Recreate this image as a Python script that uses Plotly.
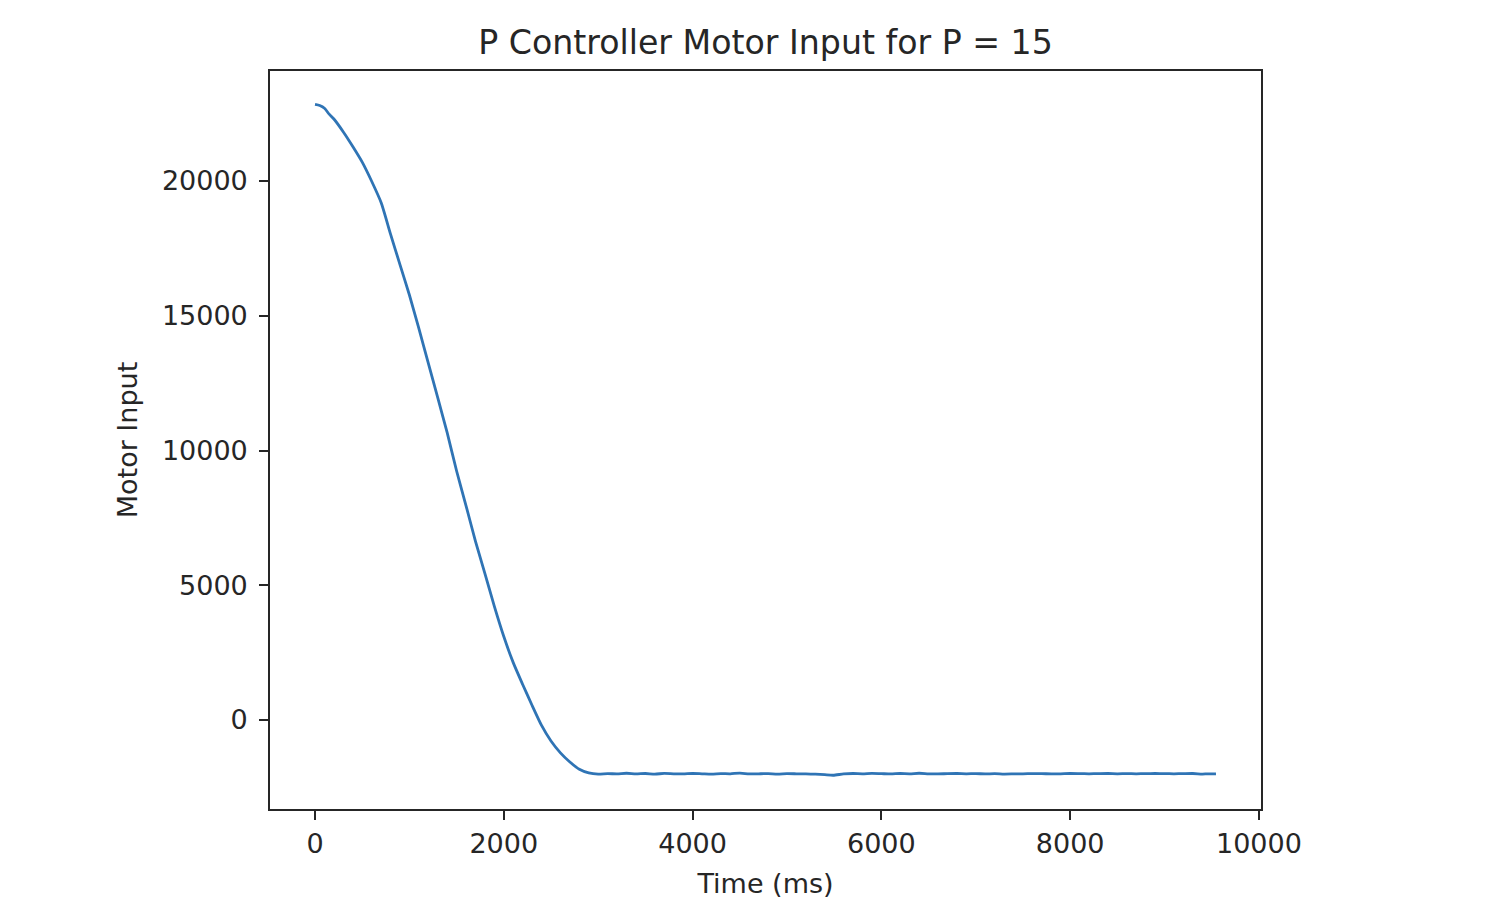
import plotly.graph_objects as go

# Time (ms) and motor input values
time_ms = [0, 50, 100, 150, 200, 300, 400, 500, 600, 700, 800, 900, 1000,
           1100, 1200, 1300, 1400, 1500, 1600, 1700, 1800, 1900, 2000, 2100,
           2200, 2300, 2400, 2500, 2600, 2700, 2800, 2900, 3000,
           3100, 3200, 3300, 3400, 3500, 3600, 3700, 3800, 3900, 4000,
           4100, 4200, 4300, 4400, 4500, 4600, 4700, 4800, 4900, 5000,
           5100, 5200, 5300, 5400, 5490, 5600, 5700, 5800, 5900, 6000,
           6100, 6200, 6300, 6400, 6500, 6600, 6700, 6800, 6900, 7000,
           7100, 7200, 7300, 7400, 7500, 7600, 7700, 7800, 7900, 8000,
           8100, 8200, 8300, 8400, 8500, 8600, 8700, 8800, 8900, 9000,
           9100, 9200, 9300, 9400, 9450, 9545]
motor_input = [22840, 22800, 22700, 22480, 22300, 21820, 21280, 20700, 19990,
               19200, 18030, 16900, 15770, 14530, 13240, 11960, 10660, 9240,
               7950, 6630, 5430, 4220, 3100, 2130, 1320, 540, -200, -780,
               -1220, -1560, -1830, -1965, -2010,
               -1990, -2000, -1975, -2000, -1985, -2010, -1980, -1995, -2000, -1985,
               -1995, -2005, -1990, -1995, -1970, -2000, -1995, -1990, -2005, -1990,
               -1995, -2000, -2010, -2030, -2050, -2000, -1985, -1995, -1980, -1990,
               -2000, -1985, -1995, -1975, -1995, -2000, -1990, -1985, -1995, -1990,
               -2000, -1990, -2005, -2000, -1995, -1990, -1990, -2000, -1995, -1985,
               -1990, -1995, -1990, -1985, -1995, -1990, -1995, -1990, -1985, -1990,
               -1995, -1990, -1985, -2005, -2000, -1995]

x_ticks = [0, 2000, 4000, 6000, 8000, 10000]
y_ticks = [0, 5000, 10000, 15000, 20000]

fig = go.Figure()
fig.add_trace(go.Scatter(
    x=time_ms, y=motor_input, mode="lines",
    line=dict(color="#2f74b5", width=2.8, shape="spline", smoothing=0.6),
    showlegend=False, hoverinfo="x+y",
))

font_family = "DejaVu Sans"
axis_common = dict(
    showgrid=False, zeroline=False, showline=True, mirror=True,
    linecolor="#262626", linewidth=1.6,
    ticks="outside", ticklen=9, tickwidth=1.6, tickcolor="#262626",
    tickfont=dict(family=font_family, size=27, color="#262626"),
)

fig.update_layout(
    width=1505, height=905,
    margin=dict(l=262, r=252, t=63, b=104),
    paper_bgcolor="white", plot_bgcolor="white",
    font=dict(family=font_family, color="#262626"),
    title=dict(
        text="P Controller Motor Input for P = 15",
        x=757.5 / 1505, xanchor="center",
        y=1 - 34 / 905, yanchor="middle", yref="container",
        font=dict(family=font_family, size=33.2, color="#262626"),
    ),
    xaxis=dict(
        range=[-477, 10022], tickvals=x_ticks,
        ticktext=[str(v) for v in x_ticks],
        title=dict(text="Time (ms)", font=dict(family=font_family, size=27, color="#262626"), standoff=16),
        ticklabelstandoff=1,
        **axis_common,
    ),
    yaxis=dict(
        range=[-3302, 24082], tickvals=y_ticks,
        ticktext=[str(v) for v in y_ticks],
        title=dict(text="Motor Input", font=dict(family=font_family, size=27, color="#262626"), standoff=16),
        ticklabelstandoff=6,
        **axis_common,
    ),
)

fig.write_html("out.html")
